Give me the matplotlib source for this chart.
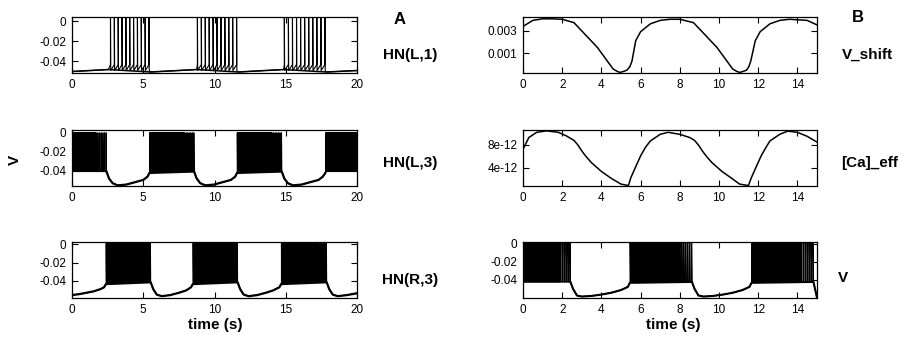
import numpy as np
import matplotlib
matplotlib.use('Agg')
import matplotlib.pyplot as plt

plt.rcParams['font.family'] = ['Liberation Sans', 'DejaVu Sans']
plt.rcParams['axes.unicode_minus'] = False

# bursts: (start, end of dense part, end, spikes in dense part, spikes in tail)

# ---- panel A: HN(L,1) ----
l1_bursts = [(2.7, 5.4, 5.4, 11, 0), (8.8, 11.55, 11.55, 11, 0), (14.9, 17.75, 17.75, 11, 0)]
l1_peak = 0.01
l1_low, l1_high = -0.0495, -0.0435
l1_rest_t = [0, 2.55, 5.5, 8.75, 11.65, 14.85, 17.85, 20]
l1_rest_v = [-0.0505, -0.0485, -0.051, -0.0485, -0.051, -0.0485, -0.051, -0.0495]

# ---- panel A: HN(L,3) ----
l3_bursts = [(0, 1.7, 2.4, 36, 6), (5.45, 7.9, 8.55, 48, 6),
             (11.6, 14.05, 14.7, 48, 6), (17.8, 20, 20, 40, 0)]
l3_peak = 0.0
l3_plateau = -0.0415
l3_rest_t = [2.42, 2.6, 2.85, 3.2, 3.8, 4.4, 5.0, 5.3, 5.43,
             8.57, 8.75, 9.0, 9.35, 9.95, 10.55, 11.15, 11.45, 11.58,
             14.72, 14.9, 15.15, 15.5, 16.1, 16.7, 17.3, 17.6, 17.78]
l3_rest_v = [-0.0415, -0.049, -0.054, -0.0563, -0.0555, -0.053, -0.0505, -0.047, -0.043,
             -0.0415, -0.049, -0.054, -0.0563, -0.0555, -0.053, -0.0505, -0.047, -0.043,
             -0.0415, -0.049, -0.054, -0.0563, -0.0555, -0.053, -0.0505, -0.047, -0.043]

# ---- panel A: HN(R,3) ----
r3_bursts = [(2.4, 4.9, 5.5, 48, 6), (8.5, 11.0, 11.6, 48, 6), (14.7, 17.2, 17.85, 48, 6)]
r3_peak = 0.001
r3_plateau = -0.0415
r3_rest_t = [0, 0.5, 1.0, 1.5, 2.0, 2.25, 2.38,
             5.52, 5.7, 5.95, 6.3, 6.9, 7.5, 8.0, 8.35, 8.48,
             11.62, 11.8, 12.05, 12.4, 13.0, 13.6, 14.1, 14.55, 14.68,
             17.87, 18.05, 18.3, 18.65, 19.3, 20]
r3_rest_v = [-0.0555, -0.0545, -0.053, -0.0515, -0.049, -0.047, -0.0435,
             -0.0415, -0.049, -0.055, -0.0567, -0.0555, -0.053, -0.0505, -0.047, -0.0435,
             -0.0415, -0.049, -0.055, -0.0567, -0.0555, -0.053, -0.0505, -0.047, -0.0435,
             -0.0415, -0.049, -0.055, -0.0567, -0.0555, -0.0535]

# ---- panel B: V_shift ----
vs_t = [0, 0.5, 1.0, 1.5, 2.0, 2.6, 3.2, 3.8, 4.6, 4.8, 4.95, 5.15, 5.3, 5.45, 5.56, 5.75,
        6.0, 6.5, 7.0, 7.5, 8.0, 8.7, 9.3, 9.9, 10.7, 10.9, 11.05, 11.25, 11.4, 11.52,
        11.62, 11.85, 12.1, 12.6, 13.1, 13.6, 14.5, 15]
vs_v = [0.00337, 0.0039, 0.00404, 0.00404, 0.0040, 0.0037, 0.0026, 0.0015, -0.0004, -0.0006,
        -0.0007, -0.0006, -0.0005, -0.0002, 0.0003, 0.0021, 0.0029, 0.0036, 0.0039, 0.0040,
        0.0040, 0.0037, 0.0026, 0.0015, -0.0004, -0.0006, -0.0007, -0.0006, -0.0005,
        -0.0002, 0.0003, 0.0021, 0.0029, 0.0036, 0.0039, 0.0040, 0.0039, 0.0035]

# ---- panel B: [Ca]_eff (x1e-12) ----
ca_t = [0, 0.3, 0.7, 1.2, 1.8, 2.2, 2.6, 2.8, 3.0, 3.25, 3.5, 4.0, 4.5, 5.0, 5.38, 5.5, 5.8,
        6.0, 6.25, 6.5, 7.0, 7.4, 8.0, 8.5, 8.75, 8.95, 9.15, 9.4, 9.65, 10.15, 10.65, 11.05,
        11.5, 11.65, 11.95, 12.15, 12.4, 12.6, 13.1, 13.5, 14.0, 14.5, 15]
ca_v = [7.25, 9.3, 10.2, 10.45, 10.2, 9.6, 8.8, 8.0, 6.96, 5.85, 4.9, 3.4, 2.2, 1.2, 0.95,
        2.3, 4.6, 6.1, 7.6, 8.7, 9.85, 10.2, 9.85, 9.3, 8.8, 8.0, 6.96, 5.85, 4.9, 3.4, 2.2,
        1.2, 0.95, 2.3, 4.6, 6.1, 7.6, 8.7, 9.85, 10.4, 10.2, 9.5, 8.5]

# ---- panel B: V ----
v_bursts = [(0, 1.9, 2.4, 38, 5), (5.47, 8.0, 8.6, 50, 6), (11.68, 14.2, 14.8, 50, 6)]
v_peak = 0.001
v_plateau = -0.0425
v_rest_t = [2.42, 2.55, 2.75, 3.0, 3.5, 4.0, 4.5, 5.0, 5.35, 5.45,
            8.62, 8.75, 8.95, 9.2, 9.7, 10.2, 10.7, 11.2, 11.55, 11.66,
            14.82, 15.0]
v_rest_v = [-0.0425, -0.05, -0.0575, -0.0587, -0.058, -0.0565, -0.0545, -0.0515, -0.048, -0.0435,
            -0.0425, -0.05, -0.0575, -0.0587, -0.058, -0.0565, -0.0545, -0.0515, -0.048, -0.0435,
            -0.0425, -0.06]


def trace(rest_t, rest_v, bursts, peak, low, high):
    pts = list(zip(rest_t, rest_v))
    for a, m, b, n1, n2 in bursts:
        times = list(np.linspace(a, m, n1))
        if n2:
            times += list(np.linspace(m, b, n2 + 1)[1:])
        for ts in times:
            pts += [(ts - 1e-4, high), (ts, peak), (ts + 0.02, low)]
    pts.sort()
    t, v = zip(*pts)
    return np.array(t), np.array(v)


def style(ax, xlim, ylim, xticks, yticks, yticklabels):
    ax.set_xlim(*xlim)
    ax.set_ylim(*ylim)
    ax.set_xticks(xticks)
    ax.set_yticks(yticks)
    ax.set_yticklabels(yticklabels)
    ax.tick_params(direction='in', top=True, right=True, length=4, width=0.8,
                   labelsize=8.5, pad=4)
    for s in ax.spines.values():
        s.set_linewidth(0.9)


fig = plt.figure(figsize=(9.05, 3.42), dpi=100)
lx, rx, lw_, rw_ = 72 / 905, 523 / 905, 285 / 905, 294 / 905
rows = [1 - 73 / 342, 1 - 186 / 342, 1 - 298 / 342]
h = 56 / 342
vticks = [0, -0.02, -0.04]
vlabels = ['0', '-0.02', '-0.04']

ax = fig.add_axes([lx, rows[0], lw_, h])
t, v = trace(l1_rest_t, l1_rest_v, l1_bursts, l1_peak, l1_low, l1_high)
ax.plot(t, v, color='black', lw=0.8)
ax.plot(l1_rest_t, l1_rest_v, color='black', lw=1.1)
style(ax, (0, 20), (-0.052, 0.0045), [0, 5, 10, 15, 20], vticks, vlabels)

ax = fig.add_axes([lx, rows[1], lw_, h])
t, v = trace(l3_rest_t, l3_rest_v, l3_bursts, l3_peak, l3_plateau, l3_plateau)
ax.plot(t, v, color='black', lw=0.8)
ax.plot(l3_rest_t, l3_rest_v, color='black', lw=1.6)
style(ax, (0, 20), (-0.057, 0.003), [0, 5, 10, 15, 20], vticks, vlabels)

ax = fig.add_axes([lx, rows[2], lw_, h])
t, v = trace(r3_rest_t, r3_rest_v, r3_bursts, r3_peak, r3_plateau, r3_plateau)
ax.plot(t, v, color='black', lw=0.8)
ax.plot(r3_rest_t, r3_rest_v, color='black', lw=1.6)
style(ax, (0, 20), (-0.0587, 0.0025), [0, 5, 10, 15, 20], vticks, vlabels)

ax = fig.add_axes([rx, rows[0], rw_, h])
ax.plot(vs_t, vs_v, color='black', lw=1.1)
style(ax, (0, 15), (-0.00075, 0.0042), range(0, 16, 2), [0.003, 0.001], ['0.003', '0.001'])

ax = fig.add_axes([rx, rows[1], rw_, h])
ax.plot(ca_t, np.array(ca_v) * 1e-12, color='black', lw=1.1)
style(ax, (0, 15), (0.87e-12, 10.6e-12), range(0, 16, 2), [8e-12, 4e-12], ['8e-12', '4e-12'])

ax = fig.add_axes([rx, rows[2], rw_, h])
t, v = trace(v_rest_t, v_rest_v, v_bursts, v_peak, v_plateau, v_plateau)
ax.plot(t, v, color='black', lw=0.9)
ax.plot(v_rest_t, v_rest_v, color='black', lw=1.5)
style(ax, (0, 15), (-0.0603, 0.0017), range(0, 16, 2), vticks, vlabels)

bold = dict(fontweight='bold', ha='center', va='center')
fig.text(400 / 905, 1 - 20 / 342, 'A', fontsize=12, **bold)
fig.text(858 / 905, 1 - 17 / 342, 'B', fontsize=12, **bold)
fig.text(410 / 905, 1 - 55 / 342, 'HN(L,1)', fontsize=11, **bold)
fig.text(410 / 905, 1 - 163 / 342, 'HN(L,3)', fontsize=11, **bold)
fig.text(410 / 905, 1 - 280 / 342, 'HN(R,3)', fontsize=11, **bold)
fig.text(867 / 905, 1 - 55 / 342, 'V_shift', fontsize=11, **bold)
fig.text(870 / 905, 1 - 163 / 342, '[Ca]_eff', fontsize=11, **bold)
fig.text(843 / 905, 1 - 278 / 342, 'V', fontsize=11, **bold)
fig.text(15 / 905, 1 - 160 / 342, 'V', fontsize=11, rotation=90, **bold)
fig.text(215 / 905, 1 - 325 / 342, 'time (s)', fontsize=11, **bold)
fig.text(673 / 905, 1 - 325 / 342, 'time (s)', fontsize=11, **bold)

fig.savefig('out.png', dpi=100)
